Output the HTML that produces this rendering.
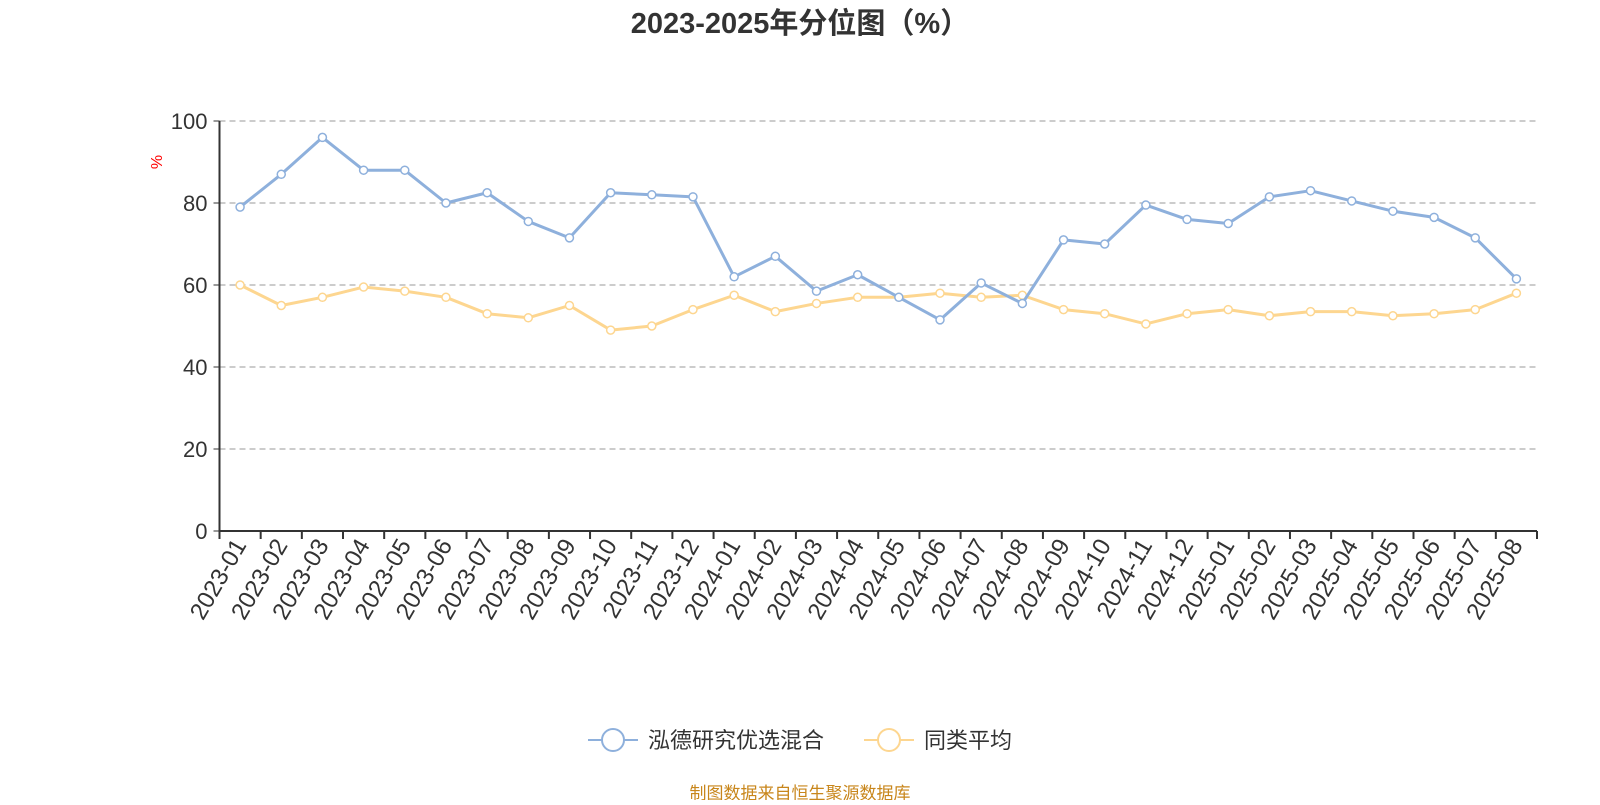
<!DOCTYPE html>
<html><head><meta charset="utf-8"><style>
body{margin:0;background:#fff;}
svg text{font-family:"Liberation Sans","Noto Sans CJK SC",sans-serif;}
</style></head><body>
<svg id="c" width="1600" height="800" xmlns="http://www.w3.org/2000/svg">
<text x="800" y="33" text-anchor="middle" font-size="29" font-weight="bold" fill="#333">2023-2025年分位图（%）</text>
<text transform="translate(162,162) rotate(-90)" text-anchor="middle" font-size="16" fill="red">%</text>
<g id="grid"></g><g id="axes"></g><g id="series"></g>
<g>
<g><line x1="588" y1="740" x2="638" y2="740" stroke="#8eb0dc" stroke-width="2"/><circle cx="613" cy="740" r="11" fill="#fff" stroke="#8eb0dc" stroke-width="2"/><text x="648" y="748" font-size="22" fill="#333">泓德研究优选混合</text></g>
<g><line x1="864" y1="740" x2="914" y2="740" stroke="#fdd690" stroke-width="2"/><circle cx="889" cy="740" r="11" fill="#fff" stroke="#fdd690" stroke-width="2"/><text x="924" y="748" font-size="22" fill="#333">同类平均</text></g>
</g>
<text x="800" y="799" text-anchor="middle" font-size="17" fill="#c8861b">制图数据来自恒生聚源数据库</text>
</svg>
<script>
const categories=["2023-01","2023-02","2023-03","2023-04","2023-05","2023-06","2023-07","2023-08","2023-09","2023-10","2023-11","2023-12","2024-01","2024-02","2024-03","2024-04","2024-05","2024-06","2024-07","2024-08","2024-09","2024-10","2024-11","2024-12","2025-01","2025-02","2025-03","2025-04","2025-05","2025-06","2025-07","2025-08"];
const fundValues=[79,87,96,88,88,80,82.5,75.5,71.5,82.5,82,81.5,62,67,58.5,62.5,57,51.5,60.5,55.5,71,70,79.5,76,75,81.5,83,80.5,78,76.5,71.5,61.5];
const avgValues=[60,55,57,59.5,58.5,57,53,52,55,49,50,54,57.5,53.5,55.5,57,57,58,57,57.5,54,53,50.5,53,54,52.5,53.5,53.5,52.5,53,54,58];
const yTicks=[0,20,40,60,80,100];
const NS="http://www.w3.org/2000/svg";
const L=219.5,R=1537,T=121,B=531;
const bw=(R-L)/categories.length;
const x=i=>L+bw*(i+0.5);
const y=v=>B-(v/100)*(B-T);
function mk(tag,attrs,parent){const e=document.createElementNS(NS,tag);for(const k in attrs)e.setAttribute(k,attrs[k]);parent.appendChild(e);return e;}
const grid=document.getElementById('grid'),axes=document.getElementById('axes'),ser=document.getElementById('series');
yTicks.forEach(t=>{
 if(t>0){const g=mk('line',{x1:L,x2:R,y1:y(t),y2:y(t),stroke:'#bbb','stroke-width':1.5,'stroke-dasharray':'6,4'},grid);
 
 }
 const tk=mk('line',{x1:L-6,x2:L,y1:y(t),y2:y(t),stroke:'#333'},axes);
 
 
 const tx=mk('text',{x:L-12,y:y(t)+8,'text-anchor':'end','font-size':'22',fill:'#333'},axes);tx.textContent=t;
 
 
});
const ya=mk('line',{x1:L,x2:L,y1:T,y2:B,stroke:'#333','stroke-width':2},axes);


const xa=mk('line',{x1:L,x2:R,y1:B,y2:B,stroke:'#333','stroke-width':2},axes);


for(let i=0;i<=categories.length;i++){const tk=mk('line',{x1:L+bw*i,x2:L+bw*i,y1:B,y2:B+8,stroke:'#333','stroke-width':2},axes);
 
 }
categories.forEach((c,i)=>{
 const tx=mk('text',{transform:`translate(${x(i)+7},${B+14}) rotate(-60)`,'text-anchor':'end','font-size':'24',fill:'#333'},axes);tx.textContent=c;
 
 
});
function drawSeries(vals,color,name){
 const p=mk('polyline',{points:vals.map((v,i)=>x(i)+','+y(v)).join(' '),fill:'none',stroke:color,'stroke-width':3,'stroke-linejoin':'round'},ser);
 
 
 vals.forEach((v,i)=>{const c=mk('circle',{cx:x(i),cy:y(v),r:4,fill:'#fff',stroke:color,'stroke-width':1.5},ser);
  
  });
}
drawSeries(avgValues,'#fdd690','average');
drawSeries(fundValues,'#8eb0dc','fund');
</script>
</body></html>
